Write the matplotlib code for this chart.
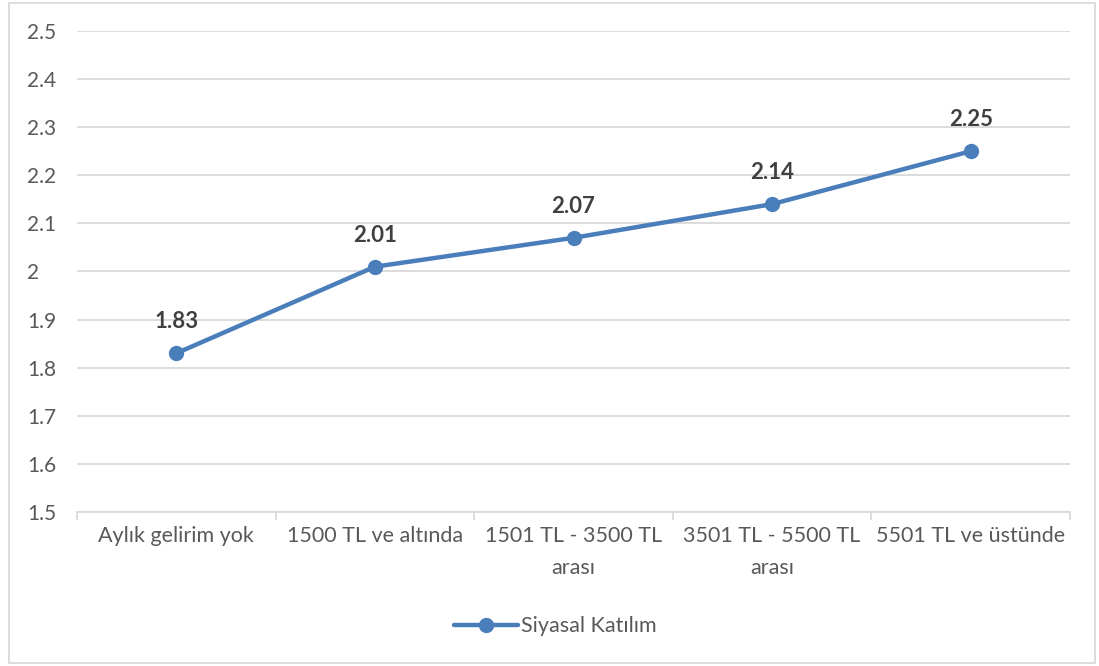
import matplotlib.pyplot as plt
from matplotlib.patches import Rectangle

categories = ["Aylık gelirim yok", "1500 TL ve altında", "1501 TL - 3500 TL\narası",
              "3501 TL - 5500 TL\narası", "5501 TL ve üstünde"]
values = [1.83, 2.01, 2.07, 2.14, 2.25]
y_ticks = [1.5, 1.6, 1.7, 1.8, 1.9, 2.0, 2.1, 2.2, 2.3, 2.4, 2.5]
y_labels = ["1.5", "1.6", "1.7", "1.8", "1.9", "2", "2.1", "2.2", "2.3", "2.4", "2.5"]

plt.rcParams['font.family'] = ['Lato', 'DejaVu Sans']
text_color = '#595959'
grid_color = '#d9d9d9'
line_color = '#4a7ebb'

fig = plt.figure(figsize=(10.99, 6.66), dpi=100)
ax = fig.add_axes([0.0701, 0.2312, 0.9035, 0.7223])

x = list(range(len(categories)))
ax.plot(x, values, color=line_color, linewidth=3.2, marker='o', markersize=10,
        label='Siyasal Katılım', solid_capstyle='round')

for xi, v in zip(x, values):
    ax.annotate(f"{v:.2f}", (xi, v), xytext=(0, 15), textcoords='offset points',
                ha='center', va='bottom', fontsize=16, fontweight='bold', color='#404040')

ax.set_xlim(-0.5, len(categories) - 0.5)
ax.set_ylim(1.5, 2.5)
ax.set_yticks(y_ticks)
ax.set_yticklabels(y_labels)
ax.yaxis.grid(True, color=grid_color, linewidth=1.3)
ax.set_axisbelow(True)

ax.set_xticks([i + 0.5 for i in range(-1, len(categories))])
ax.set_xticklabels([])
ax.set_xticks(x, minor=True)
ax.set_xticklabels(categories, minor=True, linespacing=1.75)
ax.tick_params(axis='x', which='major', length=6, color=grid_color, width=1.3)
ax.tick_params(axis='x', which='minor', length=0, pad=10, labelsize=15.5, labelcolor=text_color)
ax.tick_params(axis='y', length=0, pad=36, labelsize=15, labelcolor=text_color)
for lbl in ax.get_yticklabels():
    lbl.set_horizontalalignment('left')

for side in ['top', 'right', 'left']:
    ax.spines[side].set_visible(False)
ax.spines['bottom'].set_color(grid_color)
ax.spines['bottom'].set_linewidth(1.3)

leg = fig.legend(loc='center', bbox_to_anchor=(0.505, 0.06), frameon=False,
                 fontsize=15.5, handlelength=3.0, handletextpad=0.1)
for t in leg.get_texts():
    t.set_color(text_color)

fig.patches.append(Rectangle((0.008, 0.005), 0.988, 0.99, transform=fig.transFigure,
                             fill=False, edgecolor=grid_color, linewidth=1.3))

fig.savefig('out.png', dpi=100)
